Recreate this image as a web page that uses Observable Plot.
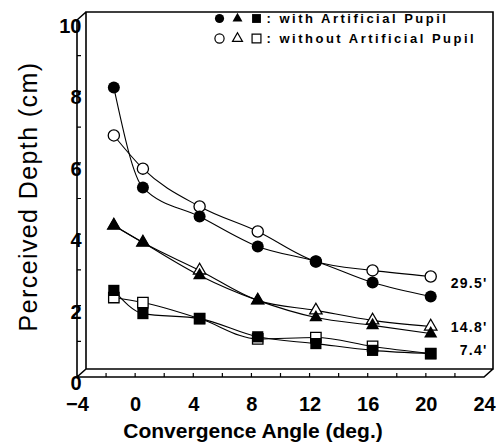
<!DOCTYPE html>
<html>
<head>
<meta charset="utf-8">
<script src="https://cdn.jsdelivr.net/npm/d3@7"></script>
<script src="https://cdn.jsdelivr.net/npm/@observablehq/plot@0.6"></script>
<style>
  html, body { margin: 0; padding: 0; background: #fff; }
  svg { font-family: "Liberation Sans", Arial, Helvetica, sans-serif; }
</style>
</head>
<body>
<div id="chart"></div>
<script>
// Convergence angle (deg.)
const angles = [-1.5, 0.5, 4.4, 8.4, 12.4, 16.3, 20.3];

// Perceived depth (cm), 29.5' target
const circleWith    = [8.12, 5.32, 4.51, 3.67, 3.25, 2.66, 2.27];
const circleWithout = [6.78, 5.85, 4.79, 4.09, 3.25, 3.00, 2.83];
// 14.8' target
const triangleWith    = [4.26, 3.78, 2.86, 2.16, 1.68, 1.46, 1.23];
const triangleWithout = [4.26, 3.78, 3.00, 2.16, 1.88, 1.60, 1.43];
// 7.4' target
const squareWith    = [2.44, 1.79, 1.65, 1.14, 0.95, 0.76, 0.67];
const squareWithout = [2.24, 2.10, 1.65, 1.08, 1.12, 0.87, 0.67];

const sizeLabels = ["29.5'", "14.8'", "7.4'"];
const xTicks = [-4, 0, 4, 8, 12, 16, 20, 24];
const yTicks = [0, 2, 4, 6, 8, 10];
const xMinorTicks = [-2, 0, 2, 4, 6, 8, 10, 12, 14, 16, 18, 20, 22];
const yMinorTicks = [1, 2, 3, 4, 5, 6, 7, 8, 9];
const legendLabels = [": with Artificial Pupil", ": without Artificial Pupil"];
const xTitle = "Convergence Angle (deg.)";
const yTitle = "Perceived Depth (cm)";

const series = [
  {key: "circle-with", symbol: "circle", filled: true, values: circleWith, r: 6},
  {key: "circle-without", symbol: "circle", filled: false, values: circleWithout, r: 5.6},
  {key: "triangle-with", symbol: "triangle", filled: true, values: triangleWith, r: 4.9},
  {key: "triangle-without", symbol: "triangle", filled: false, values: triangleWithout, r: 4.6},
  {key: "square-with", symbol: "square", filled: true, values: squareWith, r: 6.3},
  {key: "square-without", symbol: "square", filled: false, values: squareWithout, r: 5.9}
];

const rows = series.flatMap(s => s.values.map((v, i) => ({key: s.key, x: angles[i], y: v})));

const groups = [[circleWith, circleWithout], [triangleWith, triangleWithout], [squareWith, squareWithout]];
const last = angles.length - 1;
const labelRows = sizeLabels.map((t, i) => ({
  label: t, x: angles[last], y: (groups[i][0][last] + groups[i][1][last]) / 2
}));

// 3D box frame drawn from the plot's own dimensions and scales
const DX = 9, DY = -8;
function box(index, scales, values, dim) {
  const L = dim.marginLeft, R = dim.width - dim.marginRight;
  const T = dim.marginTop, B = dim.height - dim.marginBottom;
  const g = d3.create("svg:g").attr("fill", "none").attr("stroke", "black");
  const p = d3.path();
  p.rect(L + DX, T + DY, R - L, B - T);
  p.moveTo(L + DX, T + DY); p.lineTo(L, T); p.lineTo(L, B); p.lineTo(R, B); p.lineTo(R + DX, B + DY);
  p.moveTo(L, B); p.lineTo(L + DX, B + DY);
  g.append("path").attr("d", p.toString()).attr("stroke-width", 1.6);
  const t = d3.path();
  for (const v of xMinorTicks) { const x = scales.x(v); t.moveTo(x, B); t.lineTo(x, B - 4); }
  for (const v of yMinorTicks) { const y = scales.y(v); t.moveTo(L, y); t.lineTo(L + 4, y); }
  g.append("path").attr("d", t.toString()).attr("stroke-width", 1.2);
  return g.node();
}

const marks = [
  box,
  Plot.axisX({ticks: xTicks, tickSize: 0, tickPadding: 19, fontSize: 20, fontWeight: "bold", label: null}),
  Plot.axisY({ticks: yTicks, tickSize: 0, tickPadding: 0, dx: 4, dy: 6, fontSize: 20, fontWeight: "bold", label: null}),
  Plot.line(rows, {x: "x", y: "y", z: "key", curve: "monotone-x", stroke: "black", strokeWidth: 1.1})
];

for (const s of series.filter(s => !s.filled)) {
  marks.push(Plot.dot(rows.filter(d => d.key === s.key), {
    x: "x", y: "y", symbol: s.symbol, r: s.r, fill: "white", stroke: "black", strokeWidth: 1.3
  }));
}
for (const s of series.filter(s => s.filled)) {
  marks.push(Plot.dot(rows.filter(d => d.key === s.key), {
    x: "x", y: "y", symbol: s.symbol, r: s.r, fill: "black", stroke: "none"
  }));
}

marks.push(
  Plot.text(labelRows, {x: "x", y: "y", text: "label", dx: 57, dy: -3, textAnchor: "end",
    fontSize: 14, fontWeight: "bold"}),
  Plot.text([xTitle], {frameAnchor: "bottom", text: d => d, dx: -28, dy: 54, lineAnchor: "middle",
    textAnchor: "middle", fontSize: 21, fontWeight: "bold"}),
  Plot.text([yTitle], {frameAnchor: "left", text: d => d, dx: -49, dy: -2.5, rotate: -90,
    textAnchor: "middle", lineAnchor: "middle", fontSize: 25})
);

const legendSymbols = [["circle", 142, 4.6], ["triangle", 160, 3.7], ["square", 179, 5]];
legendLabels.forEach((lab, row) => {
  const dy = row === 0 ? -2 : 18;
  const filled = row === 0;
  for (const [sym, dx, r] of legendSymbols) {
    marks.push(Plot.dot([lab], {frameAnchor: "top-left", dx, dy, symbol: sym, r,
      fill: filled ? "black" : "white", stroke: filled ? "none" : "black", strokeWidth: 1.2}));
  }
  marks.push(Plot.text([lab], {frameAnchor: "top-left", text: d => d, dx: 189, dy, textAnchor: "start",
    lineAnchor: "middle", fontSize: 13, fontWeight: "bold"}));
});

const chart = Plot.plot({
  width: 496,
  height: 447,
  marginLeft: 77,
  marginRight: 12,
  marginTop: 20,
  marginBottom: 70,
  x: {domain: [-4, 24]},
  y: {domain: [0, 10]},
  style: {background: "white", color: "black", overflow: "visible"},
  marks
});

// letter spacing for the spaced-out texts
const spacing = new Map([
  [yTitle, {ls: "1.4px", fs: "25px"}],
  ...legendLabels.map(l => [l, {ls: "2.5px", fs: "13px"}]),
  ...sizeLabels.map(l => [l, {ls: "1.3px", fs: "14px"}])
]);
d3.select(chart).selectAll("text").each(function () {
  const s = spacing.get(this.textContent);
  if (s) d3.select(this).style("letter-spacing", s.ls).style("font-size", s.fs);
});
document.getElementById("chart").appendChild(chart);
</script>
</body>
</html>
